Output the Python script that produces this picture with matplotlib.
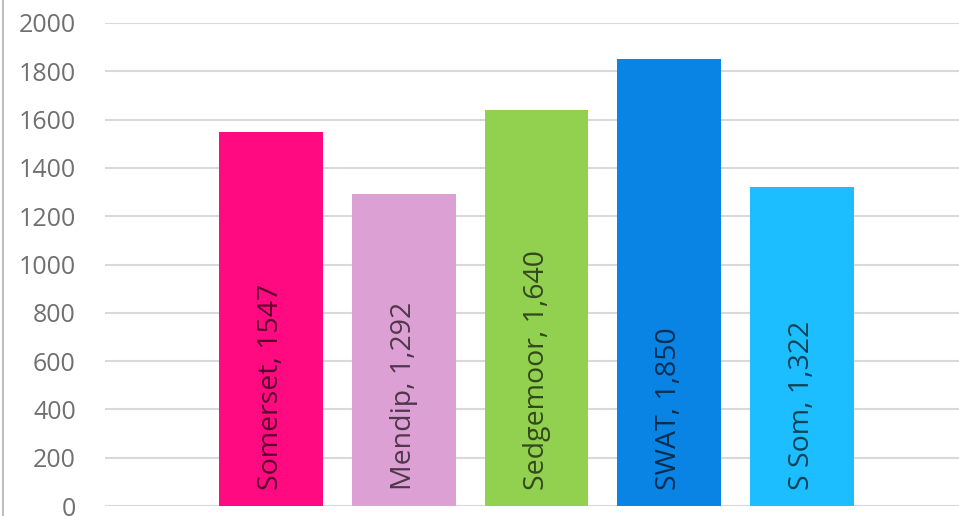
import matplotlib
matplotlib.use("Agg")
import matplotlib.pyplot as plt
from matplotlib.lines import Line2D

categories = ["Somerset", "Mendip", "Sedgemoor", "SWAT", "S Som"]
values = [1547, 1292, 1640, 1850, 1322]
labels = ["Somerset, 1547", "Mendip, 1,292", "Sedgemoor, 1,640", "SWAT, 1,850", "S Som, 1,322"]
colors = ["#FF0A80", "#DDA0D4", "#92D050", "#0A84E4", "#1CBEFF"]
yticks = [0, 200, 400, 600, 800, 1000, 1200, 1400, 1600, 1800, 2000]

plt.rcParams['font.family'] = ['Open Sans', 'DejaVu Sans']

fig = plt.figure(figsize=(9.59, 5.16), dpi=100)
ax = fig.add_axes([105/959, 10/516, 1 - 105/959, 483/516])

x = list(range(len(categories)))
ax.bar(x, values, width=104/133, color=colors, zorder=3)
for xi, lab in zip(x, labels):
    ax.text(xi, 65, lab, rotation=90, ha='center', va='bottom',
            fontsize=20.5, color='black', alpha=0.65, zorder=4)

ax.set_xlim(-1.248, 5.18)
ax.set_ylim(0, 2000)
ax.set_yticks(yticks)
ax.set_yticklabels([str(v) for v in yticks], fontsize=18, color='#707070')
for t in ax.get_yticklabels():
    t.set_verticalalignment('center_baseline')
ax.tick_params(axis='y', length=0, pad=21)
ax.set_xticks([])
ax.grid(axis='y', color='#D9D9D9', linewidth=1.5, zorder=0)
for s in ax.spines.values():
    s.set_visible(False)

fig.add_artist(Line2D([2.5/959, 2.5/959], [0, 1], transform=fig.transFigure,
                      color='#BFBFBF', linewidth=1.5))

fig.savefig("out.png", dpi=100)
